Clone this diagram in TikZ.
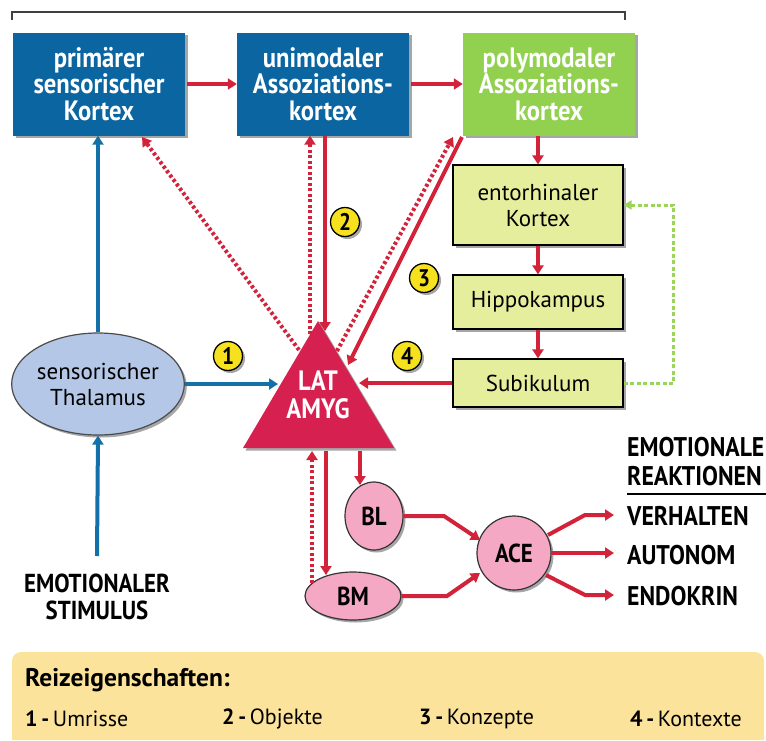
\documentclass[tikz,border=0pt]{standalone}
\usepackage{fontspec}
\setmainfont{PT Sans}
\newfontfamily\condfont{PT Sans}[FakeStretch=0.88]
\usetikzlibrary{arrows.meta,shadows,shapes.geometric,calc}
\definecolor{boxblue}{HTML}{0A65A0}
\definecolor{polygreen}{HTML}{92D050}
\definecolor{entofill}{HTML}{E4EE9C}
\definecolor{thalfill}{HTML}{B4C7E7}
\definecolor{amygred}{HTML}{D62150}
\definecolor{arrowred}{HTML}{D2233A}
\definecolor{arrowblue}{HTML}{1470A8}
\definecolor{pinkfill}{HTML}{F5A8C4}
\definecolor{numyellow}{HTML}{F5E11E}
\definecolor{legendfill}{HTML}{FCE39B}
\definecolor{greendash}{HTML}{9BD45A}
\tikzset{
  shad/.style={drop shadow={shadow xshift=2.5pt,shadow yshift=-2.5pt,fill=black,opacity=0.35}},
  bigbox/.style={fill=#1,minimum width=172pt,minimum height=103pt,text=white,align=center,inner sep=0pt,
    font=\condfont\bfseries\fontsize{28}{26.5}\selectfont,shad},
  entobox/.style={fill=entofill,draw=black,line width=1.2pt,minimum width=170pt,align=center,inner sep=0pt,
    font=\fontsize{23}{26}\selectfont,shad},
  pinknode/.style={ellipse,fill=pinkfill,draw=black!80,line width=1.2pt,inner sep=0pt,font=\condfont\bfseries\fontsize{26}{26}\selectfont,shad},
  numcirc/.style={circle,fill=numyellow,draw=black,line width=1.3pt,minimum size=29pt,inner sep=0pt,
    font=\condfont\bfseries\fontsize{24}{24}\selectfont,shad},
  redarrow/.style={draw=arrowred,line width=4pt,-{Triangle[length=9pt,width=11pt]}},
  reddot/.style={redarrow,dash pattern=on 3pt off 2.5pt},
  bluearrow/.style={draw=arrowblue,line width=4pt,-{Triangle[length=9pt,width=11pt]}},
  greenline/.style={draw=greendash,line width=3pt,dash pattern=on 4pt off 2.5pt,-{Triangle[length=8pt,width=9pt]}},
  outtext/.style={anchor=west,inner sep=0pt,font=\condfont\bfseries\fontsize{27}{27}\selectfont},
  legtext/.style={anchor=west,inner sep=0pt,font=\fontsize{22}{22}\selectfont},
}
\begin{document}
\begin{tikzpicture}[x=1pt,y=-1pt]
\useasboundingbox (0,0) rectangle (766,740);
% top bracket
\draw[black!75,line width=1.2pt] (12,20) -- (12,12) -- (625,12) -- (625,20);
% cortex boxes
\node[bigbox=boxblue] (prim) at (99,84) {primärer\\sensorischer\\Kortex};
\node[bigbox=boxblue] (uni) at (323,84) {unimodaler\\Assoziations-\\kortex};
\node[bigbox=polygreen] (poly) at (549,84) {polymodaler\\Assoziations-\\kortex};
% hippocampal chain
\node[entobox,minimum height=80pt] (ento) at (538,205) {entorhinaler\\Kortex};
\node[entobox,minimum height=54pt] (hippo) at (538,302) {Hippokampus};
\node[entobox,minimum height=48pt] (subi) at (538,383) {Subikulum};
% thalamus
\node[ellipse,fill=thalfill,draw=black!70,line width=1.2pt,minimum width=172pt,minimum height=102pt,
  align=center,inner sep=0pt,font=\fontsize{23}{26}\selectfont,shad] (thal) at (98,384) {sensorischer\\Thalamus};
% triangle LAT AMYG
\coordinate (apex) at (318,321);
\coordinate (tl) at (243,448);
\coordinate (tr) at (394,448);
\fill[amygred,shad] (apex) -- (tr) -- (tl) -- cycle;
\node[text=white,align=center,font=\condfont\bfseries\fontsize{28}{28}\selectfont] (amyg) at (318,395) {LAT\\AMYG};
% pink nuclei
\node[pinknode,minimum width=58pt,minimum height=68pt] (bl) at (374,516) {BL};
\node[pinknode,minimum width=96pt,minimum height=48pt] (bm) at (353,596) {BM};
\node[pinknode,circle,minimum size=74pt] (ace) at (514,553) {ACE};
% stimulus
\node[align=center,font=\condfont\bfseries\fontsize{26}{27}\selectfont] (stim) at (97,597) {EMOTIONALER\\STIMULUS};
\coordinate (stimtop) at (97,556);
% outputs
\node[outtext] (emo1) at (627,447) {EMOTIONALE};
\node[outtext] (emo2) at (627,476) {REAKTIONEN};
\draw[black,line width=1.3pt] (627,494) -- (766,494);
\node[outtext] (verh) at (627,516) {VERHALTEN};
\node[outtext] (auto) at (627,555) {AUTONOM};
\node[outtext] (endo) at (627,596) {ENDOKRIN};
% number circles
\node[numcirc] (n1) at (228,356) {1};
\node[numcirc] (n2) at (345,222) {2};
\node[numcirc] (n3) at (424,278) {3};
\node[numcirc] (n4) at (407,356) {4};
% coordinates on the triangle
\coordinate (tleft) at (278,384);
\coordinate (tright) at (359,383);
\coordinate (tdl) at (299,350);
\coordinate (tup1) at (310,334);
\coordinate (tup2) at (325,331);
\coordinate (tdr) at (337,351);
\coordinate (tin) at (348,365);
\coordinate (b1) at (312,451);
\coordinate (b2) at (326,451);
\coordinate (b3) at (360,451);
\coordinate (bmtop1) at (312,583);
\coordinate (bmtop2) at (326,575);
\coordinate (bltop) at (360,485);
% blue connectors
\draw[bluearrow] (stimtop) -- (thal.south);
\draw[bluearrow] (thal.north) -- (prim.south -| thal.north);
\draw[bluearrow] (thal.east) -- (tleft);
% cortex chain
\draw[redarrow] (prim.east) ++(2,0) -- (uni.west);
\draw[redarrow] (uni.east) ++(2,0) -- (poly.west);
\draw[redarrow] (poly.south -| ento.north) -- (ento.north);
\draw[redarrow] (ento.south) -- (hippo.north);
\draw[redarrow] (hippo.south) -- (subi.north);
\draw[greenline] (subi.east) -- ++(50,0) |- (ento.east);
% to / from amygdala
\draw[reddot] (tdl) -- (142,137);
\draw[reddot] (tup1) -- (tup1 |- uni.south);
\draw[redarrow] (tup2 |- uni.south) -- (tup2);
\draw[reddot] (tdr) -- (453,137);
\draw[redarrow] (462,137) -- (tin);
\draw[redarrow] (subi.west) -- (tright);
% below amygdala
\draw[reddot] (bmtop1) -- (b1);
\draw[redarrow] (b2) -- (bmtop2);
\draw[redarrow] (b3) -- (bltop);
\draw[redarrow] (bl.east) -- (444,516) -- (480,540);
\draw[redarrow] (bm.east) -- (447,596) -- (480,573);
\draw[redarrow] (548,535) -- (585,515) -- (614,515);
\draw[redarrow] (ace.east) -- (614,553);
\draw[redarrow] (546,575) -- (585,595) -- (614,595);
% legend
\fill[legendfill] (12,740) {[rounded corners=9pt] -- (12,652) -- (764,652)} -- (764,740) -- cycle;
\node[legtext,font=\bfseries\fontsize{25.5}{25.5}\selectfont] (leg) at (25,680) {Reizeigenschaften:};
\node[legtext] (l1) at (25,719) {\textbf{1\,-}\,Umrisse};
\node[legtext] (l2) at (222,719) {\textbf{2\,-}\,Objekte};
\node[legtext] (l3) at (419,719) {\textbf{3\,-}\,Konzepte};
\node[legtext] (l4) at (630,719) {\textbf{4\,-}\,Kontexte};
\end{tikzpicture}
\end{document}
